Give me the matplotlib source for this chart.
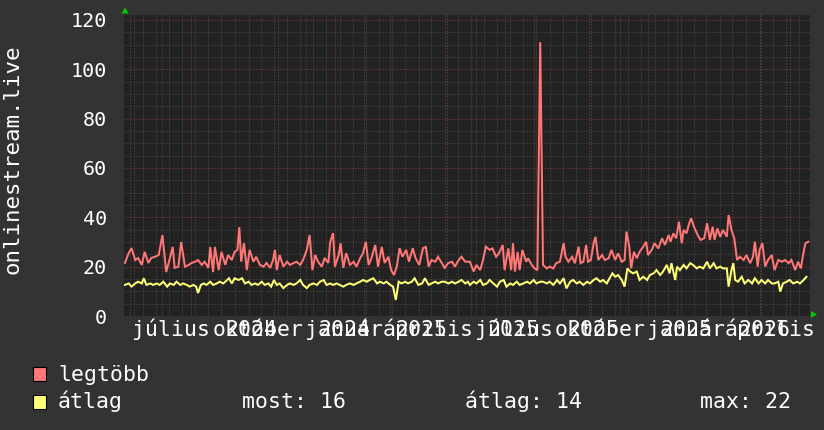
import numpy as np
import matplotlib
matplotlib.use("Agg")
import matplotlib.pyplot as plt
from matplotlib.patches import Polygon, Rectangle
from matplotlib.transforms import IdentityTransform, offset_copy

plt.rcParams['font.family'] = ['DejaVu Sans Mono', 'DejaVu Sans']

# ---------------- data ----------------
START = np.datetime64('2024-05-21')
SPAN_DAYS = 731.8

red_days = [1, 5, 8, 12, 15, 19, 22, 26, 29, 33, 37, 41, 45, 49, 52, 54, 58, 61, 65, 69,
            72, 76, 79, 83, 86, 90, 92, 95, 97, 101, 104, 108, 111, 115, 118, 121, 123, 125, 128, 131,
            134, 138, 141, 145, 149, 152, 156, 159, 161, 163, 166, 170, 174, 177, 181, 184, 188, 191, 195, 198,
            201, 204, 207, 211, 214, 218, 220, 223, 225, 229, 231, 234, 237, 241, 245, 248, 252, 255, 258, 261,
            264, 268, 271, 275, 278, 282, 285, 288, 291, 294, 297, 301, 304, 308, 311, 315, 319, 322, 325, 328,
            332, 335, 339, 342, 346, 350, 353, 357, 360, 364, 367,
            369, 373, 376, 380, 383, 386, 390, 393, 397, 400, 404, 406, 410, 413, 415, 417, 420, 422, 425, 429,
            431, 435, 438, 441, 444, 447, 451, 454, 458, 461, 465, 469, 471, 474, 478, 481, 485, 487, 490, 493,
            495, 498, 501, 503, 506, 510, 513, 517, 520, 524, 527, 531, 534, 536, 539, 541, 544, 547, 550, 554,
            557, 559, 563, 566, 570, 574, 577, 581, 583, 586, 589, 592, 595, 597, 600, 603, 605, 608, 612, 615,
            619, 622, 625, 628, 630, 633, 636, 639, 643, 645, 648, 651, 654, 657, 661, 664, 668, 671, 673, 676,
            678, 681, 684, 687, 691, 694, 698, 702, 705, 709, 712, 716, 719, 722, 725, 727, 730]
red_vals = [21.5, 25.5, 27.5, 22.7, 23.5, 20.7, 26, 21.5, 23.5, 24, 24.7, 32.8, 17.8, 23.5, 28, 19.5, 20, 30, 20, 20.7,
            21.5, 22, 22.7, 20.7, 22, 19.5, 28, 17.8, 28, 18.6, 26, 20.7, 24.7, 22.7, 26, 26.8, 36, 22, 29.5, 18.6,
            26.8, 22, 24, 20.7, 20, 21.5, 19.5, 22.7, 26.8, 18.6, 24.7, 20, 22, 20.7, 21.5, 22, 20.7, 22.7, 26.8, 32.8,
            18.6, 24.7, 22, 20, 23.5, 21.5, 30, 33.6, 20, 24.7, 29.5, 19.5, 25.5, 20.7, 22, 20, 23.5, 25.5, 30, 20.7,
            23.5, 28.8, 20, 28, 21.5, 24, 18.6, 16.6, 20, 27.5, 24, 26.8, 22, 27.5, 23.5, 20.7, 27.5, 28, 20, 22.7,
            22, 24, 21.5, 19.5, 21.5, 22, 20, 22.7, 24, 22, 22,
            22, 18, 20.7, 18.6, 22.7, 28.1, 26.8, 27.4, 24, 25.4, 28.8, 18.6, 27.4, 18.6, 29.5, 18, 26, 18.6, 26.8, 22,
            23.4, 20.7, 19.3, 18.6, 111, 20.7, 19.3, 20, 19.3, 21.4, 22, 29.5, 24, 22, 24, 21.4, 28.1, 21.4, 22, 28.8,
            22, 22.7, 29.5, 32.1, 22.7, 24.7, 22.7, 23.4, 26.8, 22.7, 25.4, 22, 22.7, 34.2, 28.1, 19.3, 26, 23.4, 26, 28.1,
            30.1, 24.7, 26.8, 29.5, 27.4, 31.5, 28.8, 32.8, 30.1, 33.5, 31.5, 38.2, 29.5, 34.9, 33.5, 37.6, 39.6, 36.2, 32.8, 30.8,
            31.5, 37.6, 30.8, 36.2, 30.8, 35.5, 32.1, 34.9, 32.1, 40.9, 34.9, 31.5, 22.7, 24, 22.7, 24.7, 21.4, 24, 30.1, 20,
            26.8, 29.5, 20, 22.7, 24.7, 18.6, 22.7, 22, 22.7, 21.4, 22.7, 18.6, 22, 19.3, 26, 29.5, 30.1]

avg_days = [1, 5, 8, 12, 15, 19, 21, 24, 28, 31, 35, 38, 42, 46, 49, 53, 56, 60, 63, 67,
            70, 74, 77, 79, 82, 85, 88, 92, 95, 99, 102, 106, 110, 112, 115, 118, 122, 126, 129, 133,
            136, 140, 143, 147, 150, 154, 157, 160, 163, 166, 170, 174, 177, 181, 184, 188, 191, 195, 198, 202,
            206, 209, 213, 216, 220, 223, 227, 230, 234, 237, 241, 245, 248, 252, 255, 259, 262, 266, 270, 273,
            277, 280, 284, 287, 290, 293, 296, 300, 303, 307, 310, 314, 318, 321, 325, 328, 332, 335, 339, 342,
            346, 350, 353, 357, 360, 364, 367,
            369, 373, 376, 380, 383, 387, 390, 394, 398, 401, 405, 408, 412, 415, 419, 422, 426, 430, 433, 437,
            440, 444, 447, 451, 454, 458, 462, 465, 469, 472, 476, 479, 483, 486, 490, 494, 497, 501, 504, 508,
            511, 515, 518, 521, 524, 527, 531, 534, 537, 540, 543, 547, 550, 554, 558, 561, 565, 568, 572, 575,
            579, 582, 584, 588, 590, 593, 597, 600, 604, 607, 611, 614, 618, 622, 625, 629, 632, 636, 639, 643,
            645, 648, 650, 652, 655, 659, 662, 666, 670, 673, 677, 680, 684, 687, 691, 694, 698, 700, 703, 707,
            710, 714, 718, 721, 725, 728]
avg_vals = [12.6, 13.2, 11.9, 13.2, 13.9, 13.2, 15.3, 12.6, 13.2, 12.6, 13.2, 12.6, 13.9, 11.9, 13.2, 12.6, 13.9, 12.6, 13.2, 12.6,
            11.9, 12.6, 11.9, 9.3, 12.6, 13.2, 12.6, 13.9, 12.6, 13.2, 13.9, 13.2, 14.6, 15.3, 13.2, 15.3, 14.6, 15.3, 13.2, 13.9,
            12.6, 13.2, 12.6, 13.9, 12.6, 13.2, 11.9, 14.6, 12.6, 13.2, 11.3, 12.6, 13.2, 12.6, 13.2, 14.6, 12.6, 11.3, 12.6, 13.2,
            12.6, 13.9, 14.6, 12.6, 13.2, 12.6, 13.2, 12.6, 11.9, 12.6, 13.2, 12.6, 13.2, 13.9, 14.6, 13.9, 14.6, 15.3, 13.2, 13.9,
            13.2, 13.9, 12.6, 11.9, 6.5, 13.9, 13.2, 13.9, 13.2, 13.9, 15.3, 12.6, 13.2, 15.3, 12.6, 13.2, 13.9, 13.2, 13.9, 13.9,
            13.2, 13.9, 13.2, 13.9, 14.6, 13.2, 13.9,
            12.6, 13.9, 13.2, 14.6, 12.6, 13.2, 14.6, 13.2, 11.9, 13.9, 14.6, 11.9, 13.2, 12.6, 13.9, 12.6, 13.2, 13.9, 13.2, 14.6,
            13.2, 13.9, 13.9, 13.2, 13.9, 12.6, 14.6, 13.2, 15.3, 11.2, 13.9, 14.6, 13.2, 13.9, 12.6, 13.9, 13.2, 14.6, 15.3, 13.9,
            14.6, 13.2, 15.3, 17.3, 15.9, 16.6, 14.6, 11.9, 19.3, 18, 17.3, 18, 14.6, 15.9, 14.6, 16.6, 17.3, 18.6, 16.6, 18,
            20.7, 17.3, 21.4, 14.6, 20, 18.6, 20.7, 19.3, 21.4, 20.7, 19.3, 20, 19.3, 22, 19.3, 21.4, 19.3, 20, 19.3, 19.3,
            11.9, 18.6, 21.4, 14.6, 13.9, 15.9, 13.2, 14.6, 13.2, 15.3, 13.2, 14.6, 13.2, 14.6, 13.2, 13.2, 13.9, 9.9, 13.2, 13.9,
            14.6, 13.2, 13.9, 13.2, 14.6, 15.9]

y_ticks = [0, 20, 40, 60, 80, 100, 120]
y_max = 122.0
quarter_dates = ['2024-07-01', '2024-10-01', '2025-01-01', '2025-04-01',
                 '2025-07-01', '2025-10-01', '2026-01-01', '2026-04-01']
month_labels = ['július', 'október', 'január', 'április',
                'július', 'október', 'január', 'április']
year_labels = ['', '2024', '2024', '2025', '2025', '2025', '2025', '2026']
series_names = ['legtöbb', 'átlag']
stat_labels = ['most: 16', 'átlag: 14', 'max: 22']
y_title = 'onlinestream.live'

RED = '#ff7777'
YEL = '#ffff77'
BG = '#333333'
PLOT_BG = '#222222'
W, H = 824, 430


def day_of(d):
    return float((np.datetime64(d) - START).astype(int))


fig = plt.figure(figsize=(W / 100, H / 100), dpi=100, facecolor=BG)
L, R, T, B = 124, 810, 15, 316
ax = fig.add_axes([L / W, 1 - B / H, (R - L) / W, (B - T) / H])
ax.set_facecolor(PLOT_BG)
ax.set_xlim(0, SPAN_DAYS)
ax.set_ylim(0, y_max)
for s in ax.spines.values():
    s.set_visible(False)

dot = (0, (1, 2))
# horizontal grid
for v in np.arange(5, y_max, 5):
    if v % 20 != 0:
        ax.axhline(v, color='#505050', lw=0.72, ls=dot, zorder=1)
for v in y_ticks:
    ax.axhline(v, color='#8a3c3c', lw=0.72, ls=dot, zorder=2)

# vertical grid: minor every 14 days, major at each month start
month_starts = np.arange(np.datetime64('2024-06'), np.datetime64('2026-06'), np.timedelta64(1, 'M'))
major_days = [day_of(m.astype('datetime64[D]')) for m in month_starts]
minor = np.arange(np.datetime64('2024-05-27'), np.datetime64('2026-06-01'), np.timedelta64(14, 'D'))
for m in minor:
    d = day_of(m)
    if 0 < d < SPAN_DAYS and all(abs(d - md) > 1.5 for md in major_days):
        ax.axvline(d, color='#505050', lw=0.72, ls=dot, zorder=1)
for d in major_days:
    if 0 < d < SPAN_DAYS:
        ax.axvline(d, color='#8a3c3c', lw=0.72, ls=dot, zorder=2)

ax.plot(red_days, red_vals, color=RED, lw=1.45, zorder=5, solid_joinstyle='miter')
ax.plot(avg_days, avg_vals, color=YEL, lw=1.45, zorder=6, solid_joinstyle='miter')

ax.set_xticks([])
ax.set_yticks(y_ticks)
ax.set_yticklabels([str(v) for v in y_ticks])
ax.tick_params(axis='y', length=0, pad=12.2, labelcolor='white', labelsize=14.5)

# x labels: month names and years overlap each other, as in the original
xt = ax.get_xaxis_transform()
char_w = 12.9
for d, ml, yl in zip(quarter_dates, month_labels, year_labels):
    x = day_of(d)
    tm = offset_copy(xt, fig=fig, x=9, y=0, units='dots')
    ax.text(x, -20 / (B - T), ml, transform=tm, ha='center', va='baseline',
            color='white', fontsize=15.5, clip_on=False)
    if yl:
        dy = 9 - (char_w / 2 if len(ml) % 2 else 0)
        ty = offset_copy(xt, fig=fig, x=dy, y=0, units='dots')
        ax.text(x, -20 / (B - T), yl, transform=ty, ha='center', va='baseline',
                color='white', fontsize=15.5, clip_on=False)

# y title
fig.text(18.5 / W, 1 - 159 / H, y_title, rotation=90, rotation_mode='anchor',
         ha='center', va='baseline', color='white', fontsize=16.2)

# arrows
idt = IdentityTransform()
fig.add_artist(Polygon([[121.5, H - 13.5], [128.5, H - 13.5], [125, H - 7.5]], closed=True,
                       facecolor='#00cc00', edgecolor='none', transform=idt))
fig.add_artist(Polygon([[811, H - 311], [811, H - 318], [817, H - 314.5]], closed=True,
                       facecolor='#00cc00', edgecolor='none', transform=idt))

# legend
for i, (name, col) in enumerate(zip(series_names, [RED, YEL])):
    yc = 374 + i * 27.5
    fig.add_artist(Rectangle((33, H - yc - 7), 13, 14, facecolor=col, edgecolor='black', lw=0.8,
                             transform=idt))
    fig.text(58 / W, 1 - (yc + 7) / H, name, ha='left', va='baseline', color='white', fontsize=15.5)
for txt, x in zip(stat_labels, [242, 465, 700]):
    fig.text(x / W, 1 - (374 + 27.5 + 7) / H, txt, ha='left', va='baseline', color='white', fontsize=15.5)

fig.savefig('out.png', dpi=100, facecolor=BG)
